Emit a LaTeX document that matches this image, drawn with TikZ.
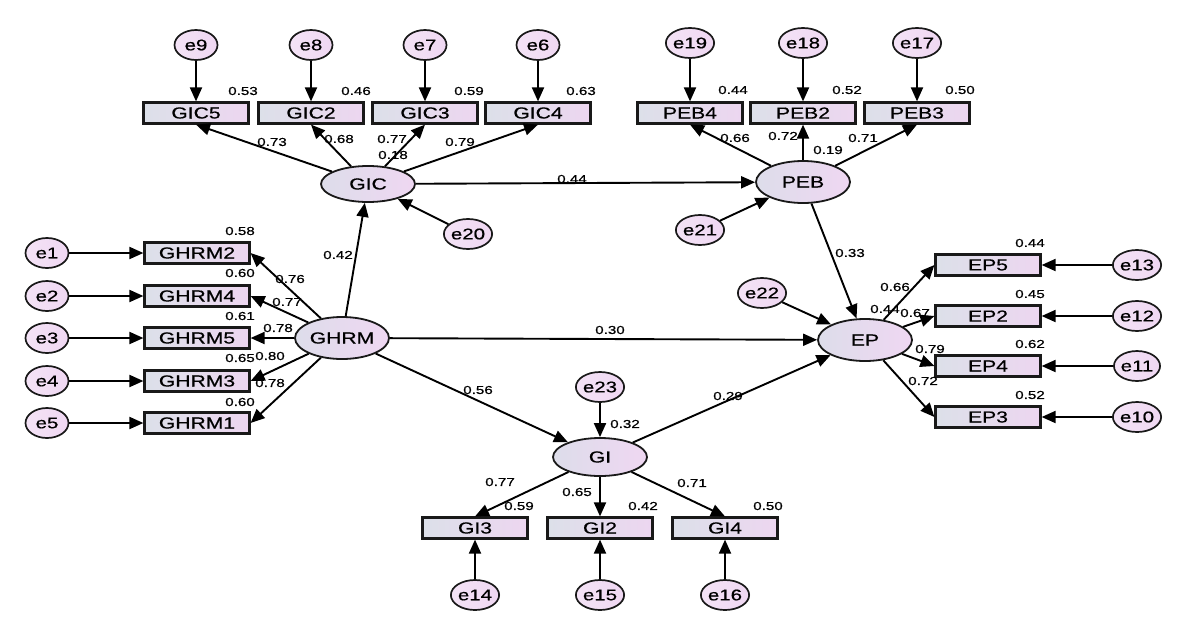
\documentclass[tikz,border=0pt]{standalone}
\usepackage{fontspec}
\setmainfont{Liberation Sans}[FakeStretch=1.32,FakeBold=0.6]
\usetikzlibrary{arrows.meta,shapes.geometric}
\definecolor{cl}{HTML}{DCE0E9}
\definecolor{cr}{HTML}{EDD6F0}
\definecolor{el}{HTML}{DDDDEA}
\definecolor{er}{HTML}{EFD7F2}
\tikzset{
  obs/.style={draw=black!90,line width=2.2pt,rectangle,minimum width=105pt,minimum height=21pt,inner sep=0pt,left color=cl,right color=cr,font=\fontsize{16}{16}\selectfont},
  lat/.style={draw=black!90,line width=1.8pt,ellipse,minimum width=94pt,minimum height=42pt,inner sep=0pt,left color=el,right color=er,font=\fontsize{16}{16}\selectfont},
  err/.style={draw=black!90,line width=1.7pt,ellipse,minimum width=43pt,minimum height=30pt,inner sep=0pt,left color=er!70!white,right color=er,font=\fontsize{15.5}{15.5}\selectfont},
  lbl/.style={font=\fontsize{11.5}{11.5}\selectfont,inner sep=0pt},
  arr/.style={draw=black,line width=1.9pt,-{Triangle[length=14pt,width=12pt]}},
}
\begin{document}
\begin{tikzpicture}[x=1pt,y=-1pt]
\useasboundingbox (0,0) rectangle (1190,640);
% latent variables
\node[lat,minimum height=36pt] (GIC) at (368,184) {GIC};
\node[lat] (PEB) at (803,182) {PEB};
\node[lat] (GHRM) at (342,338) {GHRM};
\node[lat] (EP) at (865,340) {EP};
\node[lat,minimum height=38pt] (GI) at (600,457) {GI};
% GIC indicators
\node[obs] (GIC5) at (196,113) {GIC5};
\node[obs] (GIC2) at (311,113) {GIC2};
\node[obs] (GIC3) at (425,113) {GIC3};
\node[obs] (GIC4) at (538,113) {GIC4};
\node[err] (e9) at (196,45) {e9};
\node[err] (e8) at (311,45) {e8};
\node[err] (e7) at (425,45) {e7};
\node[err] (e6) at (538,45) {e6};
% PEB indicators
\node[obs] (PEB4) at (690,113) {PEB4};
\node[obs] (PEB2) at (803,113) {PEB2};
\node[obs] (PEB3) at (917,113) {PEB3};
\node[err] (e19) at (690,43) {e19};
\node[err] (e18) at (803,43) {e18};
\node[err] (e17) at (917,43) {e17};
% GHRM indicators
\node[obs] (GHRM2) at (197,253) {GHRM2};
\node[obs] (GHRM4) at (197,296) {GHRM4};
\node[obs] (GHRM5) at (197,338) {GHRM5};
\node[obs] (GHRM3) at (197,381) {GHRM3};
\node[obs] (GHRM1) at (197,423) {GHRM1};
\node[err] (e1) at (47,253) {e1};
\node[err] (e2) at (47,296) {e2};
\node[err] (e3) at (47,338) {e3};
\node[err] (e4) at (47,381) {e4};
\node[err] (e5) at (47,423) {e5};
% EP indicators
\node[obs] (EP5) at (988,265) {EP5};
\node[obs] (EP2) at (988,316) {EP2};
\node[obs] (EP4) at (988,366) {EP4};
\node[obs] (EP3) at (988,417) {EP3};
\node[err] (e13) at (1137,265) {e13};
\node[err] (e12) at (1137,316) {e12};
\node[err] (e11) at (1137,366) {e11};
\node[err] (e10) at (1137,417) {e10};
% GI indicators
\node[obs] (GI3) at (475,528) {GI3};
\node[obs] (GI2) at (600,528) {GI2};
\node[obs] (GI4) at (725,528) {GI4};
\node[err] (e14) at (475,595) {e14};
\node[err] (e15) at (600,595) {e15};
\node[err] (e16) at (725,595) {e16};
% disturbances
\node[err] (e20) at (468,234) {e20};
\node[err] (e21) at (700,230) {e21};
\node[err] (e22) at (762,293) {e22};
\node[err] (e23) at (600,387) {e23};
% error arrows
\foreach \e/\b in {e9/GIC5,e8/GIC2,e7/GIC3,e6/GIC4,e19/PEB4,e18/PEB2,e17/PEB3}
  \draw[arr] (\e) -- (\b.north);
\foreach \e/\b in {e1/GHRM2,e2/GHRM4,e3/GHRM5,e4/GHRM3,e5/GHRM1}
  \draw[arr] (\e) -- (\b.west);
\foreach \e/\b in {e13/EP5,e12/EP2,e11/EP4,e10/EP3}
  \draw[arr] (\e) -- (\b.east);
\foreach \e/\b in {e14/GI3,e15/GI2,e16/GI4}
  \draw[arr] (\e) -- (\b.south);
\draw[arr] (e20) -- (GIC);
\draw[arr] (e21) -- (PEB);
\draw[arr] (e22) -- (EP);
\draw[arr] (e23) -- (GI);
% loadings
\foreach \b in {GIC5,GIC2,GIC3,GIC4} \draw[arr] (GIC) -- (\b.south);
\foreach \b in {PEB4,PEB2,PEB3} \draw[arr] (PEB) -- (\b.south);
\foreach \b in {GHRM2,GHRM4,GHRM5,GHRM3,GHRM1} \draw[arr] (GHRM) -- (\b.east);
\foreach \b in {EP5,EP2,EP4,EP3} \draw[arr] (EP) -- (\b.west);
\foreach \b in {GI3,GI2,GI4} \draw[arr] (GI) -- (\b.north);
% structural paths
\draw[arr] (GHRM) -- (GIC);
\draw[arr] (GIC) -- (PEB);
\draw[arr] (PEB) -- (EP);
\draw[arr] (GHRM) -- (EP);
\draw[arr] (GHRM) -- (GI);
\draw[arr] (GI) -- (EP);
% labels: R2
\node[lbl] (r1) at (243,91) {0.53};
\node[lbl] (r2) at (356,91) {0.46};
\node[lbl] (r3) at (469,91) {0.59};
\node[lbl] (r4) at (581,91) {0.63};
\node[lbl] (r5) at (733,90) {0.44};
\node[lbl] (r6) at (847,90) {0.52};
\node[lbl] (r7) at (960,90) {0.50};
\node[lbl] (r8) at (240,231) {0.58};
\node[lbl] (r9) at (240,273) {0.60};
\node[lbl] (r10) at (240,316) {0.61};
\node[lbl] (r11) at (240,358) {0.65};
\node[lbl] (r12) at (240,402) {0.60};
\node[lbl] (r13) at (1030,243) {0.44};
\node[lbl] (r14) at (1030,294) {0.45};
\node[lbl] (r15) at (1030,344) {0.62};
\node[lbl] (r16) at (1030,395) {0.52};
\node[lbl] (r17) at (519,506) {0.59};
\node[lbl] (r18) at (643,506) {0.42};
\node[lbl] (r19) at (768,506) {0.50};
\node[lbl] (r20) at (393,155) {0.18};
\node[lbl] (r21) at (828,150) {0.19};
\node[lbl] (r22) at (885,309) {0.44};
\node[lbl] (r23) at (625,424) {0.32};
% labels: loadings
\node[lbl] (w1) at (272,142) {0.73};
\node[lbl] (w2) at (339,139) {0.68};
\node[lbl] (w3) at (392,139) {0.77};
\node[lbl] (w4) at (460,142) {0.79};
\node[lbl] (w5) at (735,138) {0.66};
\node[lbl] (w6) at (783,136) {0.72};
\node[lbl] (w7) at (863,138) {0.71};
\node[lbl] (w8) at (290,279) {0.76};
\node[lbl] (w9) at (287,302) {0.77};
\node[lbl] (w10) at (278,328) {0.78};
\node[lbl] (w11) at (270,356) {0.80};
\node[lbl] (w12) at (270,383) {0.78};
\node[lbl] (w13) at (895,287) {0.66};
\node[lbl] (w14) at (915,313) {0.67};
\node[lbl] (w15) at (930,349) {0.79};
\node[lbl] (w16) at (923,381) {0.72};
\node[lbl] (w17) at (500,482) {0.77};
\node[lbl] (w18) at (577,492) {0.65};
\node[lbl] (w19) at (692,483) {0.71};
% labels: structural
\node[lbl] (s1) at (338,255) {0.42};
\node[lbl] (s2) at (572,179) {0.44};
\node[lbl] (s3) at (850,253) {0.33};
\node[lbl] (s4) at (610,330) {0.30};
\node[lbl] (s5) at (478,390) {0.56};
\node[lbl] (s6) at (728,396) {0.29};
\end{tikzpicture}
\end{document}
